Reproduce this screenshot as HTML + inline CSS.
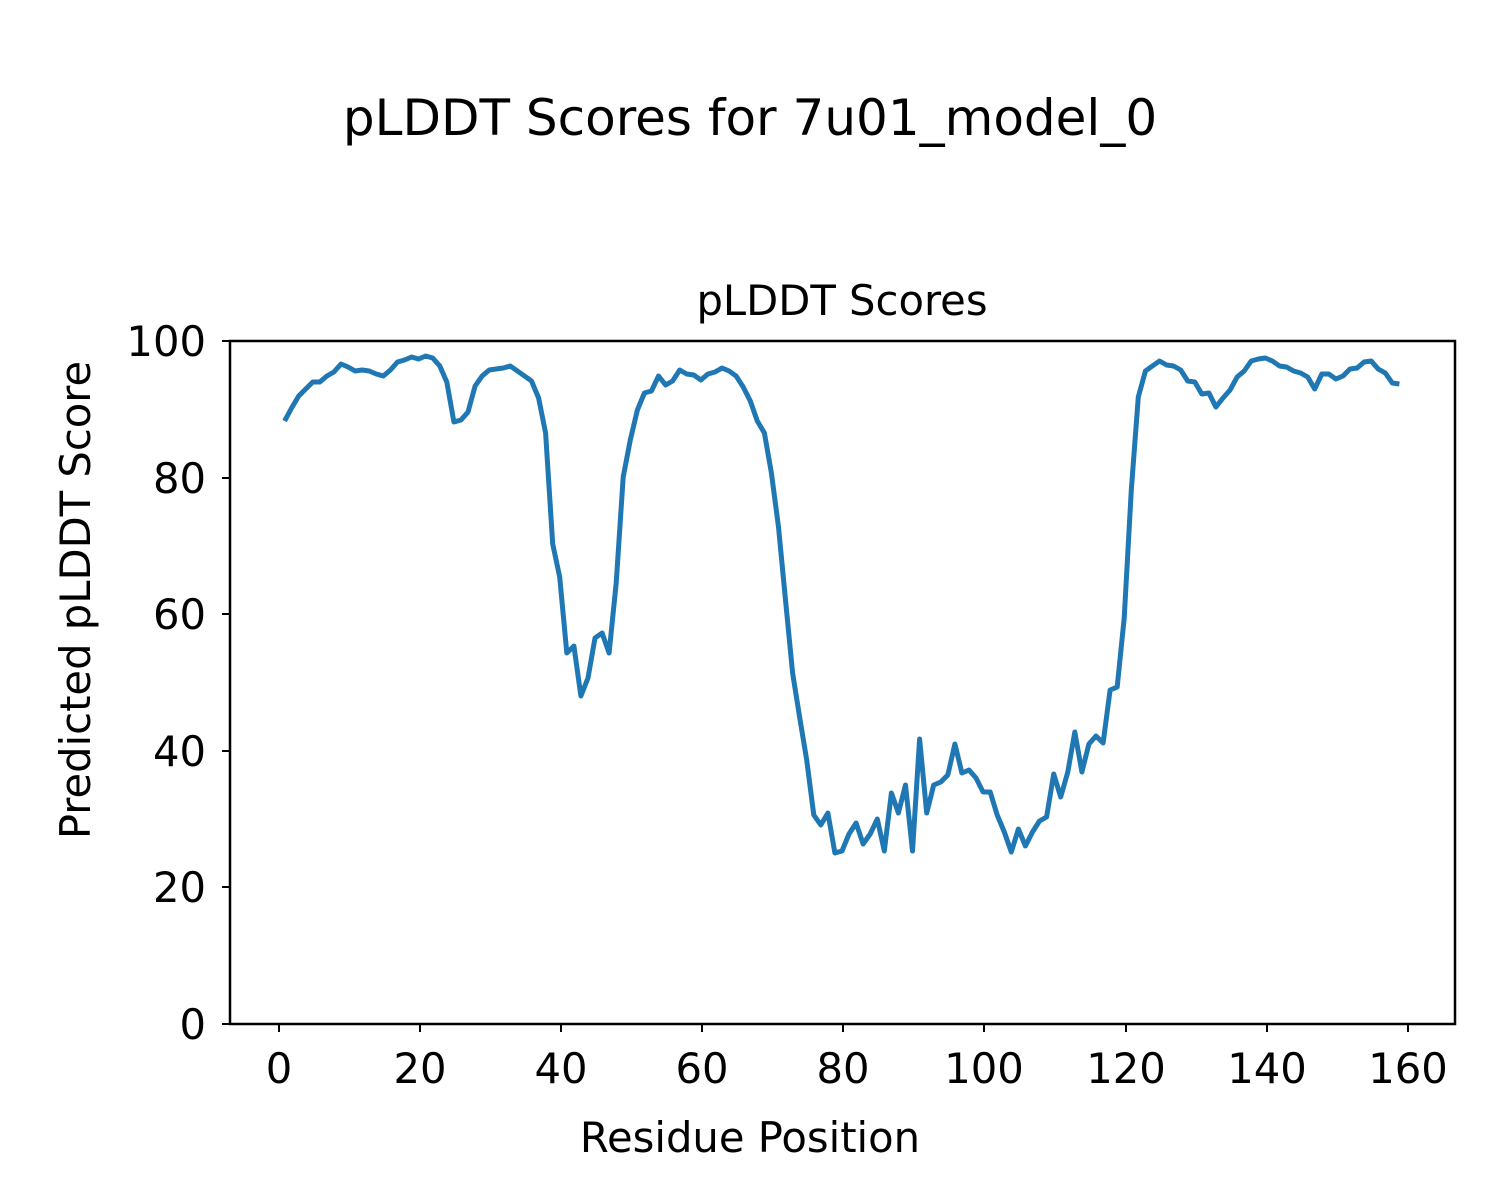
<!DOCTYPE html>
<html><head><meta charset="utf-8"><style>body{margin:0;background:#fff}svg{display:block}</style></head>
<body>
<svg width="1500" height="1200" xmlns="http://www.w3.org/2000/svg" font-family="DejaVu Sans, Liberation Sans, sans-serif">
<rect width="1500" height="1200" fill="#fff"/>
<text x="750" y="135" font-size="50" text-anchor="middle">pLDDT Scores for 7u01_model_0</text>
<text x="842" y="315" font-size="41.7" text-anchor="middle">pLDDT Scores</text>
<polyline id="l" fill="none" stroke="#1f77b4" stroke-width="5" stroke-linejoin="round" points=""/>
<rect x="230" y="341" width="1225" height="683" fill="none" stroke="#000" stroke-width="2.5"/>
<g stroke="#000" stroke-width="2">
<line x1="279" y1="1024" x2="279" y2="1032"/><line x1="420" y1="1024" x2="420" y2="1032"/><line x1="561" y1="1024" x2="561" y2="1032"/><line x1="702" y1="1024" x2="702" y2="1032"/><line x1="843" y1="1024" x2="843" y2="1032"/><line x1="984" y1="1024" x2="984" y2="1032"/><line x1="1126" y1="1024" x2="1126" y2="1032"/><line x1="1267" y1="1024" x2="1267" y2="1032"/><line x1="1408" y1="1024" x2="1408" y2="1032"/>
<line x1="222" y1="1024" x2="230" y2="1024"/><line x1="222" y1="887" x2="230" y2="887"/><line x1="222" y1="751" x2="230" y2="751"/><line x1="222" y1="614" x2="230" y2="614"/><line x1="222" y1="478" x2="230" y2="478"/><line x1="222" y1="341" x2="230" y2="341"/>
</g>
<g font-size="41.7" text-anchor="middle">
<text x="279" y="1083">0</text><text x="420" y="1083">20</text><text x="561" y="1083">40</text><text x="702" y="1083">60</text><text x="843" y="1083">80</text><text x="984" y="1083">100</text><text x="1126" y="1083">120</text><text x="1267" y="1083">140</text><text x="1408" y="1083">160</text>
</g>
<g font-size="41.7" text-anchor="end">
<text x="206" y="1039">0</text><text x="206" y="902">20</text><text x="206" y="766">40</text><text x="206" y="629">60</text><text x="206" y="493">80</text><text x="206" y="356">100</text>
</g>
<text x="750" y="1152" font-size="41.7" text-anchor="middle">Residue Position</text>
<text transform="translate(90,600) rotate(-90)" font-size="41.7" text-anchor="middle">Predicted pLDDT Score</text>
<script>
var y=[421,408,396,389,382,382,376,372,364,367,371,370,371,374,376,370,362,360,357,359,356,358,366,382,422,420,412,386,376,370,369,368,366,371,376,381,398,433,544,577,653,646,696,678,638,633,653,583,477,440,410,393,391,376,385,381,370,374,375,380,374,372,368,371,376,387,401,421,433,473,527,600,673,717,760,815,825,813,853,851,834,823,844,834,819,851,793,813,785,851,739,813,785,782,775,744,773,770,778,792,792,815,832,852,829,846,832,821,817,774,797,772,732,772,744,736,743,690,687,618,490,397,371,366,361,365,366,370,381,382,394,393,407,398,390,377,371,361,359,358,361,366,367,371,373,377,389,374,374,379,376,369,368,362,361,369,373,383,384];
var p=y.map(function(v,i){return (277.5+7.056*(i+1)).toFixed(1)+","+v}).join(" ");
document.getElementById("l").setAttribute("points",p);
</script>
</svg>
</body></html>
